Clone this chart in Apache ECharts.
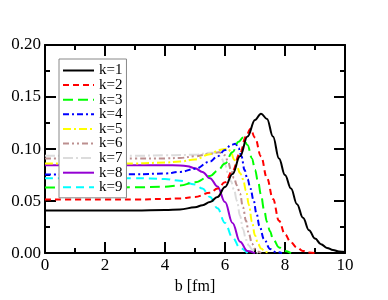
<!DOCTYPE html>
<html>
<head>
<meta charset="utf-8">
<script src="https://cdn.jsdelivr.net/npm/echarts@6/dist/echarts.min.js"></script>
<style>html,body{margin:0;padding:0;background:#fff}#c{width:388px;height:300px}</style>
</head>
<body>
<div id="c"></div>
<script>
var seriesNames = ['k=1','k=2','k=3','k=4','k=5','k=6','k=7','k=8','k=9'];
var xTicks = [0, 2, 4, 6, 8, 10];
var yTicks = [0.00, 0.05, 0.10, 0.15, 0.20];

var k1 = [[0,0.041],[1,0.041],[2,0.041],[3,0.041],[4,0.0415],[4.5,0.042],[5,0.044],[5.25,0.046],[5.5,0.049],[5.75,0.054],[6,0.0635],[6.25,0.076],[6.5,0.093],[6.75,0.112],[7.0,0.128],[7.2,0.134],[7.4,0.129],[7.6,0.112],[7.8,0.091],[8.0,0.075],[8.2,0.062],[8.4,0.047],[8.6,0.034],[8.8,0.022],[9.0,0.014],[9.2,0.0085],[9.4,0.005],[9.6,0.003],[9.8,0.0015],[10,0.001]];
var k2 = [[0,0.0515],[1,0.0515],[2,0.0515],[3,0.0515],[4,0.052],[4.5,0.0525],[5,0.054],[5.5,0.058],[5.75,0.062],[6,0.068],[6.25,0.079],[6.5,0.096],[6.7,0.112],[6.85,0.1195],[7.0,0.111],[7.2,0.093],[7.4,0.072],[7.6,0.052],[7.8,0.031],[8.0,0.018],[8.2,0.010],[8.4,0.0055],[8.6,0.002],[8.8,0.0005],[9.0,0]];
var k3 = [[0,0.063],[1,0.063],[2,0.063],[3,0.0632],[4,0.0638],[4.5,0.065],[5,0.068],[5.5,0.074],[5.75,0.079],[6.0,0.086],[6.25,0.097],[6.45,0.107],[6.6,0.111],[6.75,0.104],[6.9,0.091],[7.0,0.080],[7.1,0.069],[7.2,0.056],[7.3,0.042],[7.4,0.030],[7.5,0.021],[7.6,0.0135],[7.8,0.0055],[8.0,0.002],[8.2,0]];
var k4 = [[0,0.0755],[1,0.0755],[2,0.0755],[3,0.0757],[4,0.0765],[4.5,0.078],[5,0.081],[5.5,0.088],[5.75,0.093],[6.0,0.099],[6.2,0.104],[6.35,0.105],[6.45,0.101],[6.55,0.093],[6.65,0.080],[6.75,0.071],[6.85,0.062],[6.95,0.051],[7.05,0.038],[7.15,0.026],[7.3,0.0135],[7.5,0.004],[7.7,0.001],[7.9,0]];
var k5 = [[0,0.086],[1,0.086],[2,0.086],[3,0.0862],[4,0.087],[4.5,0.088],[5,0.090],[5.5,0.095],[5.8,0.099],[6.0,0.100],[6.1,0.1005],[6.2,0.097],[6.3,0.090],[6.4,0.083],[6.5,0.077],[6.6,0.071],[6.7,0.060],[6.8,0.046],[6.9,0.030],[7.0,0.017],[7.1,0.009],[7.2,0.0045],[7.35,0.001],[7.5,0]];
var k6 = [[0,0.091],[1,0.091],[2,0.091],[3,0.091],[4,0.091],[4.5,0.0915],[5,0.093],[5.5,0.0955],[5.8,0.097],[6.0,0.094],[6.1,0.088],[6.2,0.080],[6.3,0.072],[6.4,0.065],[6.5,0.057],[6.6,0.044],[6.7,0.031],[6.8,0.018],[6.9,0.009],[7.0,0.004],[7.1,0.0015],[7.2,0]];
var k7 = [[0,0.0935],[1,0.0935],[2,0.0935],[3,0.0935],[4,0.094],[5,0.0945],[5.5,0.0965],[5.7,0.0965],[5.85,0.093],[6.0,0.085],[6.1,0.077],[6.2,0.069],[6.3,0.061],[6.4,0.050],[6.5,0.036],[6.6,0.023],[6.7,0.013],[6.8,0.007],[6.9,0.0035],[7.0,0.0015],[7.1,0]];
var k8 = [[0,0.0845],[1,0.0845],[2,0.0845],[3,0.0845],[4,0.0845],[4.5,0.0843],[4.75,0.0835],[5.0,0.0815],[5.25,0.078],[5.5,0.072],[5.75,0.064],[6.0,0.049],[6.25,0.029],[6.5,0.011],[6.75,0.002],[7.0,0]];
var k9 = [[0,0.072],[1,0.072],[2,0.072],[3,0.072],[3.5,0.0718],[4,0.0712],[4.5,0.0695],[5.0,0.066],[5.25,0.062],[5.5,0.054],[5.75,0.043],[6.0,0.029],[6.25,0.015],[6.5,0.005],[6.75,0]];

var seriesData = [k1,k2,k3,k4,k5,k6,k7,k8,k9];
var colors = ['#000000','#ff0000','#00ff00','#0000ff','#ffff00','#bc8f8f','#dcdcdc','#9400d3','#00ffff'];
var dashes = ['solid',[6,4],[10,5],[6,3,2,3],[8,3,2,3],[6,3,2,3,2,3],[10,3,2,3],'solid',[8,5]];

var font = 'Liberation Serif';
var chart = echarts.init(document.getElementById('c'));

function valAxis(pos, min, max, interval, showLabel, fmt, name) {
  return {
    type: 'value', position: pos, min: min, max: max, interval: interval,
    name: name || '', nameLocation: 'middle', nameGap: 14,
    nameTextStyle: {fontFamily: font, fontSize: 16, color: '#000'},
    axisLine: {show: true, onZero: false, lineStyle: {color: '#000', width: 2}},
    axisTick: {show: true, inside: true, length: 11, lineStyle: {color: '#000', width: 2}},
    minorTick: {show: true, splitNumber: 2, length: 5, lineStyle: {color: '#000', width: 2}},
    axisLabel: {show: showLabel, fontFamily: font, fontSize: 17, color: '#000', margin: 4, formatter: fmt},
    splitLine: {show: false}
  };
}

var series = seriesNames.map(function (n, i) {
  return {
    name: n, type: 'line', data: seriesData[i], xAxisIndex: 0, yAxisIndex: 0,
    showSymbol: false, symbol: 'none', smooth: 0.4, smoothMonotone: 'x',
    lineStyle: {color: colors[i], width: 2, type: dashes[i]},
    itemStyle: {color: colors[i]},
    z: 10 - i
  };
});

chart.setOption({
  animation: false,
  backgroundColor: '#fff',
  grid: {left: 45, right: 43, top: 45, bottom: 45.5, containLabel: false},
  legend: {
    show: true, orient: 'vertical', left: 59, top: 59,
    data: seriesNames,
    itemWidth: 31, itemHeight: 14, itemGap: -0.4,
    padding: [4, 4, 3, 3],
    backgroundColor: '#fff', borderColor: '#888', borderWidth: 1,
    itemStyle: {opacity: 0},
    textStyle: {fontFamily: font, fontSize: 15, color: '#000'},
    z: 20
  },
  xAxis: [
    valAxis('bottom', xTicks[0], xTicks[xTicks.length-1], 2, true, function (v) { return String(v); }, 'b [fm]'),
    valAxis('top', xTicks[0], xTicks[xTicks.length-1], 2, false)
  ],
  yAxis: [
    valAxis('left', yTicks[0], yTicks[yTicks.length-1], 0.05, true, function (v) { return v.toFixed(2); }),
    valAxis('right', yTicks[0], yTicks[yTicks.length-1], 0.05, false)
  ],
  series: series
});
</script>
</body>
</html>
